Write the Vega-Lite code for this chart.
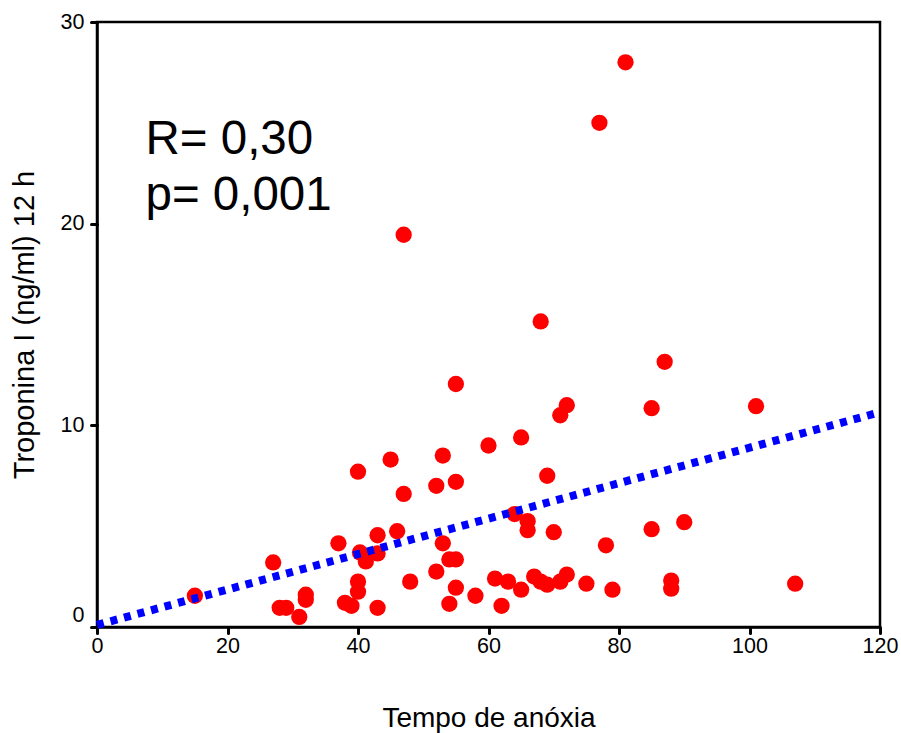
{
  "$schema": "https://vega.github.io/schema/vega-lite/v6.json",
  "autosize": {"type": "none"},
  "padding": {"left": 97, "top": 22, "right": 21, "bottom": 106},
  "width": 783,
  "height": 605,
  "background": "white",
  "config": {
    "font": "Liberation Sans",
    "view": {"stroke": "black", "strokeWidth": 2.5},
    "axis": {
      "grid": false,
      "labelFlush": false,
      "labelOverlap": false,
      "domainColor": "black",
      "domainWidth": 2.5,
      "tickColor": "black",
      "tickWidth": 3,
      "tickSize": 6,
      "tickCap": "round",
      "labelColor": "black",
      "labelFontSize": 21.5,
      "labelFont": "Liberation Sans",
      "titleFont": "Liberation Sans",
      "titleFontWeight": "normal",
      "titleColor": "black"
    }
  },
  "datasets": {
    "points": [
      {"t": 15, "trop": 1.55}, {"t": 27, "trop": 3.2}, {"t": 28, "trop": 0.95}, {"t": 29, "trop": 0.95},
      {"t": 31, "trop": 0.5}, {"t": 32, "trop": 1.6}, {"t": 32, "trop": 1.35}, {"t": 37, "trop": 4.15},
      {"t": 38, "trop": 1.2}, {"t": 39, "trop": 1.05}, {"t": 40, "trop": 7.7}, {"t": 40, "trop": 2.25},
      {"t": 40, "trop": 1.75}, {"t": 40.3, "trop": 3.7}, {"t": 41.2, "trop": 3.25}, {"t": 43, "trop": 0.95},
      {"t": 43, "trop": 4.55}, {"t": 43, "trop": 3.65}, {"t": 45, "trop": 8.3}, {"t": 46, "trop": 4.75},
      {"t": 47, "trop": 6.6}, {"t": 47, "trop": 19.45}, {"t": 48, "trop": 2.25}, {"t": 52, "trop": 2.75},
      {"t": 52, "trop": 7.0}, {"t": 53, "trop": 8.5}, {"t": 53, "trop": 4.15}, {"t": 54, "trop": 1.15},
      {"t": 54, "trop": 3.35}, {"t": 55, "trop": 3.35}, {"t": 55, "trop": 7.2}, {"t": 55, "trop": 1.95},
      {"t": 55, "trop": 12.05}, {"t": 58, "trop": 1.55}, {"t": 60, "trop": 9.0}, {"t": 61, "trop": 2.4},
      {"t": 62, "trop": 1.05}, {"t": 63, "trop": 2.25}, {"t": 64, "trop": 5.6}, {"t": 65, "trop": 9.4},
      {"t": 65, "trop": 1.85}, {"t": 66, "trop": 5.25}, {"t": 66, "trop": 4.8}, {"t": 67, "trop": 2.5},
      {"t": 68, "trop": 2.25}, {"t": 68, "trop": 15.15}, {"t": 69, "trop": 2.1}, {"t": 69, "trop": 7.5},
      {"t": 70, "trop": 4.7}, {"t": 71, "trop": 2.25}, {"t": 71, "trop": 10.5}, {"t": 72, "trop": 11.0},
      {"t": 72, "trop": 2.6}, {"t": 75, "trop": 2.15}, {"t": 77, "trop": 25.0}, {"t": 78, "trop": 4.05},
      {"t": 79, "trop": 1.85}, {"t": 81, "trop": 28.0}, {"t": 85, "trop": 10.85}, {"t": 85, "trop": 4.85},
      {"t": 87, "trop": 13.15}, {"t": 88, "trop": 2.3}, {"t": 88, "trop": 1.9}, {"t": 90, "trop": 5.2},
      {"t": 101, "trop": 10.95}, {"t": 107, "trop": 2.15}
    ],
    "fit": [
      {"t": 0, "trop": 0.1},
      {"t": 120, "trop": 10.65}
    ],
    "notes": [
      {"label": "R= 0,30"}
    ],
    "notes2": [
      {"label": "p= 0,001"}
    ]
  },
  "layer": [
    {
      "data": {"name": "points"},
      "mark": {"type": "point", "filled": true, "shape": "circle", "size": 265, "color": "#FF0000", "opacity": 1},
      "encoding": {
        "x": {
          "field": "t", "type": "quantitative",
          "scale": {"domain": [0, 120], "nice": false},
          "axis": {
            "values": [0, 20, 40, 60, 80, 100, 120],
            "title": "Tempo de anóxia",
            "titleFontSize": 28,
            "titleBaseline": "alphabetic",
            "titleY": 99,
            "labelPadding": 2
          }
        },
        "y": {
          "field": "trop", "type": "quantitative",
          "scale": {"domain": [0, 30], "nice": false},
          "axis": {
            "values": [0, 10, 20, 30],
            "title": "Troponina I (ng/ml) 12 h",
            "titleFontSize": 29,
            "titleBaseline": "alphabetic",
            "titleX": -64,
            "titleY": 302.5,
            "labelPadding": 7,
            "labelOffset": {"condition": {"test": "datum.value === 0", "value": -12}, "value": 0}
          }
        }
      }
    },
    {
      "data": {"name": "fit"},
      "mark": {"type": "line", "color": "#0000FF", "strokeWidth": 8, "strokeDash": [7, 7], "strokeCap": "butt"},
      "encoding": {
        "x": {"field": "t", "type": "quantitative"},
        "y": {"field": "trop", "type": "quantitative"}
      }
    },
    {
      "data": {"name": "notes"},
      "mark": {"type": "text", "fontSize": 47.5, "align": "left", "baseline": "alphabetic", "color": "black", "font": "Liberation Sans"},
      "encoding": {
        "text": {"field": "label"},
        "x": {"datum": 7.43, "type": "quantitative"},
        "y": {"datum": 23.45, "type": "quantitative"}
      }
    },
    {
      "data": {"name": "notes2"},
      "mark": {"type": "text", "fontSize": 47.5, "align": "left", "baseline": "alphabetic", "color": "black", "font": "Liberation Sans"},
      "encoding": {
        "text": {"field": "label"},
        "x": {"datum": 7.43, "type": "quantitative"},
        "y": {"datum": 20.67, "type": "quantitative"}
      }
    }
  ]
}
